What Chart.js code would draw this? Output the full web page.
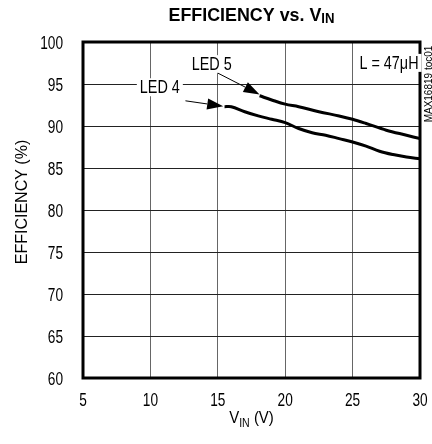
<!DOCTYPE html>
<html>
<head>
<meta charset="utf-8">
<script src="https://cdn.jsdelivr.net/npm/chart.js@4"></script>
<style>
  html, body { margin: 0; padding: 0; background: #fff; overflow: hidden; }
  #wrap { width: 432px; height: 444px; position: relative; }
</style>
</head>
<body>
<div id="wrap"><canvas id="effChart"></canvas></div>
<script>
// values
const led5Vin = [18.1, 19, 20, 21, 22.5, 24, 25, 26, 27.5, 29, 30];
const led5Eff = [93.6, 93.1, 92.6, 92.3, 91.7, 91.2, 90.8, 90.3, 89.5, 88.9, 88.5];
const led4Vin = [15.5, 16, 17, 18, 19, 20, 21, 22, 23, 24, 25, 26, 27, 28, 29, 30];
const led4Eff = [92.3, 92.3, 91.7, 91.2, 90.8, 90.4, 89.7, 89.2, 88.9, 88.5, 88.1, 87.6, 87.0, 86.6, 86.3, 86.1];
const xTicks = [5, 10, 15, 20, 25, 30];
const yTicks = [60, 65, 70, 75, 80, 85, 90, 95, 100];

const FONT = "'Liberation Sans', Arial, sans-serif";
const NARROW = 0.76; // reference uses a condensed sans

function toPoints(xs, ys) {
  return xs.map((x, i) => ({ x: x, y: ys[i] }));
}

// draw a run of text pieces, squeezed horizontally by sx
// align: 'left' | 'center' | 'right'
function drawRun(ctx, parts, x, y, sx, align) {
  let total = 0;
  parts.forEach(p => {
    ctx.font = (p.bold ? 'bold ' : '') + p.size + 'px ' + FONT;
    p.w = ctx.measureText(p.t).width;
    total += p.w;
  });
  let start = 0;
  if (align === 'center') start = -total / 2;
  if (align === 'right') start = -total;
  ctx.save();
  ctx.translate(x, y);
  ctx.scale(sx, 1);
  ctx.textAlign = 'left';
  ctx.textBaseline = 'alphabetic';
  let cur = start;
  parts.forEach(p => {
    ctx.font = (p.bold ? 'bold ' : '') + p.size + 'px ' + FONT;
    ctx.fillText(p.t, cur, p.dy || 0);
    cur += p.w;
  });
  ctx.restore();
  return total * sx;
}

// titles, frame, tick labels, notes and arrows
const decorPlugin = {
  id: 'decor',
  afterDraw(chart) {
    const ctx = chart.ctx;
    const a = chart.chartArea;
    const xs = chart.scales.x;
    const ys = chart.scales.y;
    ctx.save();

    // thick frame
    ctx.strokeStyle = '#000';
    ctx.lineWidth = 3;
    ctx.strokeRect(a.left, a.top, a.right - a.left, a.bottom - a.top);
    ctx.fillStyle = '#000';

    // tick labels
    yTicks.forEach(v => {
      drawRun(ctx, [{ t: String(v), size: 18 }], a.left - 20, ys.getPixelForValue(v) + 6.5, NARROW, 'right');
    });
    xTicks.forEach(v => {
      drawRun(ctx, [{ t: String(v), size: 18 }], xs.getPixelForValue(v), a.bottom + 28, NARROW, 'center');
    });

    const cx = (a.left + a.right) / 2;

    // chart title
    drawRun(ctx, [
      { t: 'EFFICIENCY vs. V', size: 19, bold: true },
      { t: 'IN', size: 14, bold: true, dy: 2 }
    ], cx, 21, 0.94, 'center');

    // x axis title
    drawRun(ctx, [
      { t: 'V', size: 17 },
      { t: 'IN', size: 12, dy: 4 },
      { t: ' (V)', size: 17 }
    ], cx, a.bottom + 45, 0.88, 'center');

    // y axis title
    ctx.save();
    ctx.translate(27, 202);
    ctx.rotate(-Math.PI / 2);
    drawRun(ctx, [{ t: 'EFFICIENCY (%)', size: 16 }], 0, 0, 1.0, 'center');
    ctx.restore();

    // figure id
    ctx.save();
    ctx.translate(432, 84);
    ctx.rotate(-Math.PI / 2);
    drawRun(ctx, [{ t: 'MAX16819 toc01', size: 10 }], 0, 0, 1.0, 'center');
    ctx.restore();

    // curve labels with white background
    function label(text, vx, vy) {
      const px = xs.getPixelForValue(vx);
      const py = ys.getPixelForValue(vy);
      ctx.font = '18px ' + FONT;
      const w = ctx.measureText(text).width * 0.8;
      ctx.fillStyle = '#fff';
      ctx.fillRect(px - w / 2 - 3, py - 15, w + 6, 18);
      ctx.fillStyle = '#000';
      drawRun(ctx, [{ t: text, size: 18 }], px, py, 0.8, 'center');
    }
    label('LED 5', 14.55, 96.65);
    label('LED 4', 10.7, 93.9);
    label('L = 47\u03bcH', 27.7, 96.8);

    // arrows pointing to curve starts
    function arrow(x0, y0, x1, y1) {
      const p0 = [xs.getPixelForValue(x0), ys.getPixelForValue(y0)];
      const p1 = [xs.getPixelForValue(x1), ys.getPixelForValue(y1)];
      const ang = Math.atan2(p1[1] - p0[1], p1[0] - p0[0]);
      const hl = 16, hw = 5.5;
      const bx = p1[0] - hl * Math.cos(ang), by = p1[1] - hl * Math.sin(ang);
      ctx.strokeStyle = '#000';
      ctx.lineWidth = 1;
      ctx.beginPath();
      ctx.moveTo(p0[0], p0[1]);
      ctx.lineTo(bx, by);
      ctx.stroke();
      ctx.beginPath();
      ctx.moveTo(p1[0], p1[1]);
      ctx.lineTo(bx + hw * Math.sin(ang), by - hw * Math.cos(ang));
      ctx.lineTo(bx - hw * Math.sin(ang), by + hw * Math.cos(ang));
      ctx.closePath();
      ctx.fill();
    }
    arrow(15.0, 96.3, led5Vin[0], led5Eff[0] + 0.15);
    arrow(12.6, 93.0, led4Vin[0] - 0.1, led4Eff[0] + 0.05);

    ctx.restore();
  }
};

const ctx = document.getElementById('effChart').getContext('2d');
new Chart(ctx, {
  type: 'line',
  data: {
    datasets: [
      {
        label: 'LED 5',
        data: toPoints(led5Vin, led5Eff),
        borderColor: '#000',
        borderWidth: 3,
        pointRadius: 0,
        tension: 0.35,
        fill: false
      },
      {
        label: 'LED 4',
        data: toPoints(led4Vin, led4Eff),
        borderColor: '#000',
        borderWidth: 3,
        pointRadius: 0,
        tension: 0.35,
        fill: false
      }
    ]
  },
  options: {
    responsive: true,
    maintainAspectRatio: false,
    animation: false,
    devicePixelRatio: 1,
    layout: { padding: { top: 42, right: 12, left: 0, bottom: 0 } },
    plugins: {
      legend: { display: false },
      tooltip: { enabled: false },
      title: { display: false }
    },
    scales: {
      x: {
        type: 'linear',
        min: 5,
        max: 30,
        afterBuildTicks: (s) => { s.ticks = xTicks.map(v => ({ value: v })); },
        afterFit: (s) => { s.height = 66; s.paddingLeft = 0; s.paddingRight = 0; },
        ticks: { display: false },
        grid: { color: '#666', lineWidth: 1, drawTicks: false },
        border: { display: false }
      },
      y: {
        min: 60,
        max: 100,
        afterBuildTicks: (s) => { s.ticks = yTicks.map(v => ({ value: v })); },
        afterFit: (s) => { s.width = 83; s.paddingTop = 0; s.paddingBottom = 0; },
        ticks: { display: false },
        grid: { color: '#222', lineWidth: 1, drawTicks: false },
        border: { display: false }
      }
    }
  },
  plugins: [decorPlugin]
});
</script>
</body>
</html>
